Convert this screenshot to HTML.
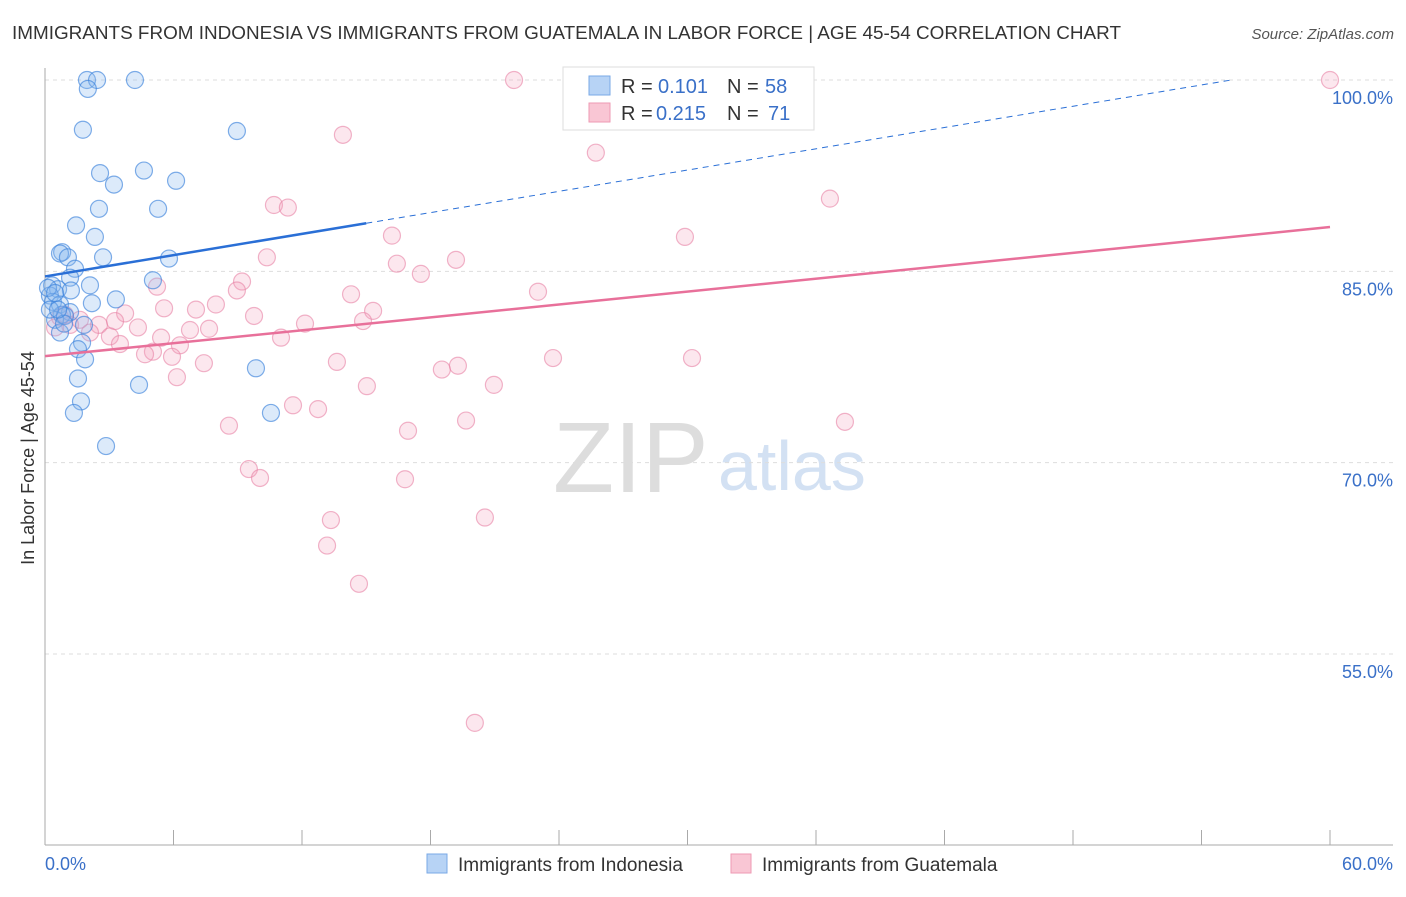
<!DOCTYPE html>
<html><head><meta charset="utf-8"><style>
body{margin:0;background:#fff;font-family:"Liberation Sans",sans-serif}
svg text{font-family:"Liberation Sans",sans-serif}
</style></head><body>
<svg id="c" width="1406" height="892" xmlns="http://www.w3.org/2000/svg">
<text x="12" y="39" font-size="18" fill="#333" textLength="1109" lengthAdjust="spacingAndGlyphs">IMMIGRANTS FROM INDONESIA VS IMMIGRANTS FROM GUATEMALA IN LABOR FORCE | AGE 45-54 CORRELATION CHART</text>
<text x="1394" y="39" font-size="15" fill="#555" font-style="italic" text-anchor="end">Source: ZipAtlas.com</text>
<text x="34" y="458" font-size="18" fill="#333" text-anchor="middle" transform="rotate(-90 34 458)">In Labor Force | Age 45-54</text>
<text x="553" y="492" font-size="100" fill="#ddd" font-family="Liberation Serif">ZIP</text>
<text x="718" y="490" font-size="70" fill="#d3e1f3">atlas</text>
<g id="grid"></g><g id="axes"></g><g id="pts"></g><g id="lines"></g>
<g>
<rect x="563" y="67" width="251" height="63" fill="#fff" stroke="#ddd"/>
<rect x="589" y="76" width="21" height="19" fill="#b7d3f5" stroke="#7aa8e6"/>
<rect x="589" y="103" width="21" height="19" fill="#f9c6d4" stroke="#ee9ab3"/>
<text x="621" y="93" font-size="20" fill="#333">R =</text>
<text x="658" y="93" font-size="20" fill="#3a70c8">0.101</text>
<text x="727" y="93" font-size="20" fill="#333">N =</text>
<text x="765" y="93" font-size="20" fill="#3a70c8">58</text>
<text x="621" y="120" font-size="20" fill="#333">R =</text>
<text x="656" y="120" font-size="20" fill="#3a70c8">0.215</text>
<text x="727" y="120" font-size="20" fill="#333">N =</text>
<text x="768" y="120" font-size="20" fill="#3a70c8">71</text>
</g>
<g>
<rect x="427" y="854" width="20" height="19" fill="#b7d3f5" stroke="#7aa8e6"/>
<text x="458" y="871" font-size="19" fill="#333">Immigrants from Indonesia</text>
<rect x="731" y="854" width="20" height="19" fill="#f9c6d4" stroke="#ee9ab3"/>
<text x="762" y="871" font-size="19" fill="#333">Immigrants from Guatemala</text>
</g>
</svg>
<script>
const yTicks=[100,85,70,55];
const yTickLabels=["100.0%","85.0%","70.0%","55.0%"];
const xTickLabels=["0.0%","60.0%"];
const blueX=[1.96,2.43,4.2,2.0,1.77,8.96,2.57,4.62,3.22,6.12,2.52,5.28,1.45,2.33,0.8,0.7,2.71,1.07,5.79,1.4,2.1,1.17,5.04,0.33,0.61,1.21,3.31,2.19,0.23,0.37,0.7,1.17,0.79,0.47,0.93,1.82,0.7,1.73,1.54,1.87,1.54,4.39,9.85,1.68,1.35,10.55,2.85,0.14,0.47,0.23,0.89,0.61];
const blueY=[100,100,100,99.3,96.1,96.0,92.7,92.9,91.8,92.1,89.9,89.9,88.6,87.7,86.5,86.4,86.1,86.1,86.0,85.2,83.9,84.5,84.3,83.9,83.6,83.5,82.8,82.5,83.1,82.6,82.4,81.8,81.6,81.2,81.5,80.8,80.2,79.4,78.9,78.1,76.6,76.1,77.4,74.8,73.9,73.9,71.3,83.7,83.3,82.0,80.9,82.0];
const pinkX=[21.9,60,13.91,25.72,36.65,10.69,11.34,29.88,16.2,10.36,16.43,19.19,17.55,9.2,5.23,8.96,23.02,14.29,15.32,7.98,5.56,7.05,9.76,14.85,12.14,2.52,3.74,3.27,4.34,6.77,7.66,11.02,5.42,3.03,3.5,5.04,4.67,6.3,5.93,7.42,13.63,19.28,18.53,23.72,30.21,6.16,15.03,20.96,11.58,12.75,19.66,37.35,8.59,16.95,9.52,10.04,16.81,20.54,13.35,13.17,14.66,20.07,0.7,1.17,1.63,0.47,2.1,0.93];
const pinkY=[100,100,95.7,94.3,90.7,90.2,90.0,87.7,87.8,86.1,85.6,85.9,84.8,84.2,83.8,83.5,83.4,83.2,81.9,82.4,82.1,82.0,81.5,81.1,80.9,80.8,81.7,81.1,80.6,80.4,80.5,79.8,79.8,79.9,79.3,78.7,78.5,79.2,78.3,77.8,77.9,77.6,77.3,78.2,78.2,76.7,76.0,76.1,74.5,74.2,73.3,73.2,72.9,72.5,69.5,68.8,68.7,65.7,65.5,63.5,60.5,49.6,81.4,80.8,81.2,80.6,80.2,81.6];
const blueTrend=[84.6,0.278];
const pinkTrend=[78.35,0.1687];
const NS="http://www.w3.org/2000/svg";
const X=v=>45+v*1285/60, Y=v=>80+(100-v)*191.33/15;
function mk(t,a,p){const e=document.createElementNS(NS,t);for(const k in a)e.setAttribute(k,a[k]);document.getElementById(p).appendChild(e);return e;}
yTicks.forEach((t,i)=>{
 const l=mk('line',{x1:45,x2:1393,y1:Y(t),y2:Y(t),stroke:'#ddd','stroke-dasharray':'4,4'},'grid');
 
 
 const tx=mk('text',{x:1393,y:Y(t)+24,'font-size':18,fill:'#3a70c8','text-anchor':'end'},'axes');tx.textContent=yTickLabels[i];
 
 
});
let ax=mk('line',{x1:45,x2:45,y1:68,y2:845,stroke:'#aaa'},'axes');


ax=mk('line',{x1:45,x2:1393,y1:845,y2:845,stroke:'#aaa'},'axes');


for(let k=1;k<=10;k++){const t=mk('line',{x1:X(k*6),x2:X(k*6),y1:830,y2:845,stroke:'#aaa'},'axes');
 
 }
[[0,'start',45],[60,'end',1393]].forEach((d,i)=>{const t=mk('text',{x:d[2],y:870,'font-size':18,fill:'#3a70c8','text-anchor':d[1]},'axes');t.textContent=xTickLabels[i];
 
 });
function pts(xs,ys,fill,stroke,name){xs.forEach((x,i)=>{const c=mk('circle',{cx:X(x),cy:Y(ys[i]),r:8.5,fill:fill,stroke:stroke,'stroke-width':1.2},'pts');
 
 });}
pts(pinkX,pinkY,'rgba(244,160,188,0.25)','rgba(232,130,165,0.6)','guatemala-point');
pts(blueX,blueY,'rgba(140,185,240,0.3)','rgba(60,130,220,0.65)','indonesia-point');
const bEnd=(100-blueTrend[0])/blueTrend[1];
let l=mk('line',{x1:X(0),y1:Y(blueTrend[0]),x2:X(15),y2:Y(blueTrend[0]+15*blueTrend[1]),stroke:'#2a6fd6','stroke-width':2.5},'lines');


l=mk('line',{x1:X(15),y1:Y(blueTrend[0]+15*blueTrend[1]),x2:X(bEnd),y2:Y(100),stroke:'#2a6fd6','stroke-width':1,'stroke-dasharray':'6,5'},'lines');


l=mk('line',{x1:X(0),y1:Y(pinkTrend[0]),x2:X(60),y2:Y(pinkTrend[0]+60*pinkTrend[1]),stroke:'#e8709a','stroke-width':2.5},'lines');


</script>
</body></html>
